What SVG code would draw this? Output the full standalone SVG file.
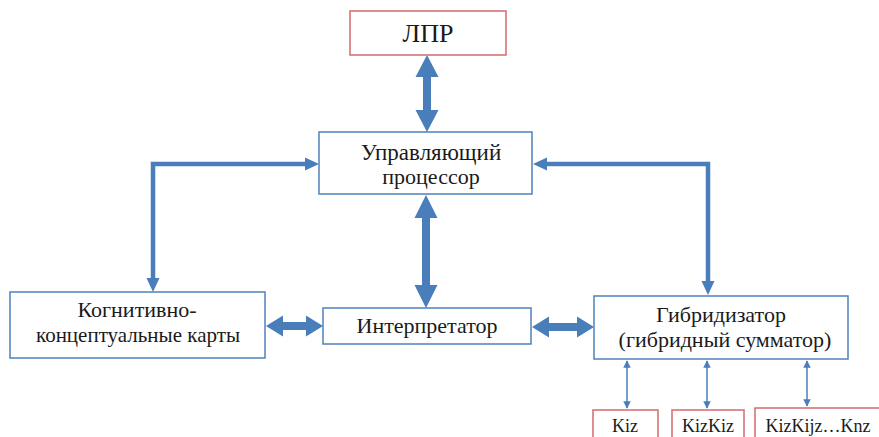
<svg xmlns="http://www.w3.org/2000/svg" width="879" height="437" viewBox="0 0 879 437">
<defs>
<style>
.box{fill:#fff;stroke:#4F81BD;stroke-width:1.5}
.rbox{fill:#fff;stroke:#D46A6A;stroke-width:1.5}
text{font-family:'Liberation Serif','Times New Roman',serif;fill:#1a1a1a;text-anchor:middle}
.m{font-size:22px}
.s{font-size:18px}
.thick{fill:#4A7EBB}
.line{fill:none;stroke:#4A7EBB;stroke-width:4.5}
.thin{fill:none;stroke:#4A7EBB;stroke-width:1.5;marker-start:url(#ah);marker-end:url(#ah)}
</style>
<marker id="ah" viewBox="0 0 10 10" refX="9" refY="5" markerWidth="5" markerHeight="5" orient="auto-start-reverse" markerUnits="strokeWidth">
<path d="M0,0 L10,5 L0,10 z" fill="#4A7EBB"/>
</marker>
</defs>
<rect width="879" height="437" fill="#fff"/>
<g id="connectors">
<polygon class="thick" points="427,55 438.5,77 431,77 431,110 438.5,110 427,132 415.5,110 423,110 423,77 415.5,77"/>
<polygon class="thick" points="426,195 437.5,218 430,218 430,285 437.5,285 426,308 414.5,285 422,285 422,218 414.5,218"/>
<polygon class="thick" points="266,326 283,315.5 283,322 306,322 306,315.5 323,326 306,336.5 306,330 283,330 283,336.5"/>
<polygon class="thick" points="532,327 549,316.5 549,323 577,323 577,316.5 594,327 577,337.5 577,331 549,331 549,337.5"/>
<path class="line" d="M305,164 H153 V279"/>
<polygon class="thick" points="319,164 305,157.5 305,170.5"/>
<polygon class="thick" points="153,292 146.5,278 159.5,278"/>
<path class="line" d="M547,164 H708 V282"/>
<polygon class="thick" points="533,164 547,157.5 547,170.5"/>
<polygon class="thick" points="708,295 701.5,281 714.5,281"/>
<line class="thin" x1="627" y1="361" x2="627" y2="408"/>
<line class="thin" x1="707" y1="361" x2="707" y2="408"/>
<line class="thin" x1="807" y1="361" x2="807" y2="406"/>
</g>
<g id="lpr">
<rect class="rbox" x="350" y="11" width="156" height="44"/>
<text x="428" y="42" font-size="26">ЛПР</text>
</g>
<g id="processor">
<rect class="box" x="319" y="132" width="213" height="62"/>
<text class="m" x="431" y="160" font-size="23" style="font-size:23px">Управляющий</text>
<text class="m" x="431" y="184">процессор</text>
</g>
<g id="cognitive">
<rect class="box" x="10" y="292" width="255" height="66"/>
<text class="m" x="137" y="317">Когнитивно-</text>
<text class="m" x="138" y="342" style="font-size:21px">концептуальные карты</text>
</g>
<g id="interpreter">
<rect class="box" x="323" y="308" width="208" height="36"/>
<text class="m" x="427" y="333">Интерпретатор</text>
</g>
<g id="hybridizer">
<rect class="box" x="594" y="296" width="254" height="63"/>
<text class="m" x="721" y="322">Гибридизатор</text>
<text class="m" x="725" y="347">(гибридный сумматор)</text>
</g>
<g id="kiz">
<rect class="rbox" x="593" y="410" width="65" height="40"/>
<text class="s" x="625" y="432">Kiz</text>
</g>
<g id="kizkiz">
<rect class="rbox" x="672" y="410" width="72" height="40"/>
<text class="s" x="708" y="432">KizKiz</text>
</g>
<g id="kizkijz">
<rect class="rbox" x="755" y="408" width="135" height="42"/>
<text class="s" x="818" y="432">KizKijz…Knz</text>
</g>
</svg>
